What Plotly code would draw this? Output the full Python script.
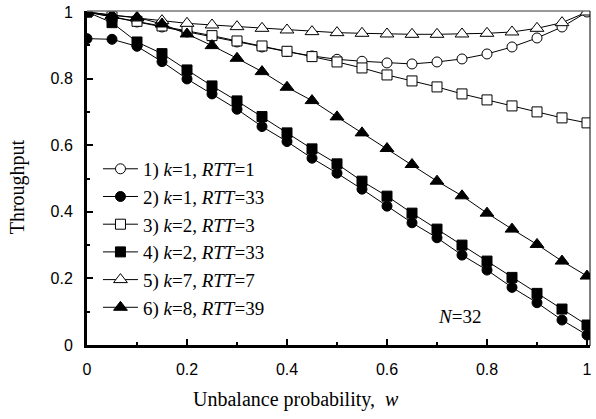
import plotly.graph_objects as go

# unbalance probability w, 0 to 1 in steps of 0.05
w = [0.0, 0.05, 0.1, 0.15, 0.2, 0.25, 0.3, 0.35, 0.4, 0.45, 0.5,
     0.55, 0.6, 0.65, 0.7, 0.75, 0.8, 0.85, 0.9, 0.95, 1.0]

# throughput
k1_rtt1 = [1.0, 0.985, 0.97, 0.955, 0.94, 0.925, 0.91, 0.895, 0.881, 0.868, 0.858,
           0.852, 0.847, 0.844, 0.85, 0.859, 0.874, 0.895, 0.922, 0.955, 1.0]
k1_rtt33 = [0.92, 0.918, 0.897, 0.851, 0.799, 0.754, 0.708, 0.656, 0.611, 0.561, 0.516,
            0.468, 0.417, 0.367, 0.322, 0.27, 0.225, 0.173, 0.127, 0.075, 0.03]
k2_rtt3 = [1.0, 0.986, 0.972, 0.958, 0.944, 0.929, 0.913, 0.898, 0.882, 0.866, 0.85,
           0.832, 0.811, 0.793, 0.775, 0.754, 0.736, 0.718, 0.70, 0.682, 0.667]
k2_rtt33 = [1.0, 0.968, 0.91, 0.875, 0.826, 0.778, 0.733, 0.686, 0.637, 0.589, 0.544,
            0.492, 0.447, 0.396, 0.348, 0.30, 0.252, 0.203, 0.155, 0.108, 0.06]
k7_rtt7 = [1.0, 0.99, 0.982, 0.974, 0.966, 0.961, 0.956, 0.951, 0.946, 0.941, 0.938,
           0.936, 0.934, 0.933, 0.933, 0.934, 0.936, 0.94, 0.951, 0.968, 1.0]
k8_rtt39 = [1.0, 0.99, 0.984, 0.964, 0.934, 0.899, 0.861, 0.821, 0.774, 0.734, 0.685,
            0.637, 0.590, 0.542, 0.492, 0.448, 0.396, 0.348, 0.302, 0.252, 0.207]

names = ["1) <i>k</i>=1, <i>RTT</i>=1",
         "2) <i>k</i>=1, <i>RTT</i>=33",
         "3) <i>k</i>=2, <i>RTT</i>=3",
         "4) <i>k</i>=2, <i>RTT</i>=33",
         "5) <i>k</i>=7, <i>RTT</i>=7",
         "6) <i>k</i>=8, <i>RTT</i>=39"]
series = [k1_rtt1, k1_rtt33, k2_rtt3, k2_rtt33, k7_rtt7, k8_rtt39]

# (symbol, fill, size)
styles = [("circle", "white", 10),
          ("circle", "black", 10),
          ("square", "white", 10),
          ("square", "black", 10),
          ("triangle-up", "white", 12),
          ("triangle-up", "black", 12)]

fig = go.Figure()
for nm, ys, (sym, fill, sz) in zip(names, series, styles):
    fig.add_trace(go.Scatter(
        x=w, y=ys, name=nm, mode="lines+markers",
        line=dict(color="black", width=1),
        marker=dict(symbol=sym, color=fill, size=sz,
                    line=dict(color="black", width=1))))

serif = "Liberation Serif, Times New Roman, serif"
sans = "Liberation Sans, Arial, sans-serif"

fig.update_layout(
    width=596, height=419,
    margin=dict(l=87, r=4, t=11, b=74),
    paper_bgcolor="white", plot_bgcolor="white",
    showlegend=True,
    legend=dict(x=0.0218, y=0.584, xanchor="left", yanchor="top",
                font=dict(family=serif, size=19, color="black"),
                bgcolor="rgba(0,0,0,0)", itemwidth=35),
    xaxis=dict(range=[0, 1.006], dtick=0.2, tick0=0,
               showgrid=False, zeroline=False,
               showline=True, linecolor="black", linewidth=3,
               ticks="inside", ticklen=6, tickwidth=2, tickcolor="black",
               minor=dict(dtick=0.1, ticks="inside", ticklen=3, tickwidth=2,
                          tickcolor="black"),
               tickfont=dict(family=sans, size=16, color="black"),
               ticklabelstandoff=8),
    yaxis=dict(range=[0, 1.003], dtick=0.2, tick0=0,
               showgrid=False, zeroline=False,
               showline=True, linecolor="black", linewidth=3,
               ticks="inside", ticklen=6, tickwidth=2, tickcolor="black",
               minor=dict(dtick=0.1, ticks="inside", ticklen=3, tickwidth=2,
                          tickcolor="black"),
               tickfont=dict(family=sans, size=16, color="black"),
               ticklabelstandoff=8),
)

# top and right frame
fig.add_shape(type="line", xref="paper", yref="paper", x0=0, x1=1, y0=1, y1=1,
              line=dict(color="#777777", width=1.5))
fig.add_shape(type="line", xref="paper", yref="paper", x0=1, x1=1, y0=-0.003, y1=1,
              line=dict(color="black", width=1))

fig.add_annotation(text="Throughput", xref="paper", yref="paper",
                   x=-0.1386, y=0.473, xanchor="center", yanchor="middle",
                   textangle=-90, showarrow=False,
                   font=dict(family=serif, size=20, color="black"))
fig.add_annotation(text="Unbalance probability,&nbsp; <i>w</i>", xref="paper", yref="paper",
                   x=0.416, y=-0.1617, xanchor="center", yanchor="middle",
                   showarrow=False,
                   font=dict(family=serif, size=20, color="black"))
fig.add_annotation(text="<i>N</i>=32", x=0.744, y=0.087, showarrow=False,
                   font=dict(family=serif, size=19, color="black"))

fig.write_html("out.html", config={"displayModeBar": False},
               post_script="document.body.style.margin='0';")
